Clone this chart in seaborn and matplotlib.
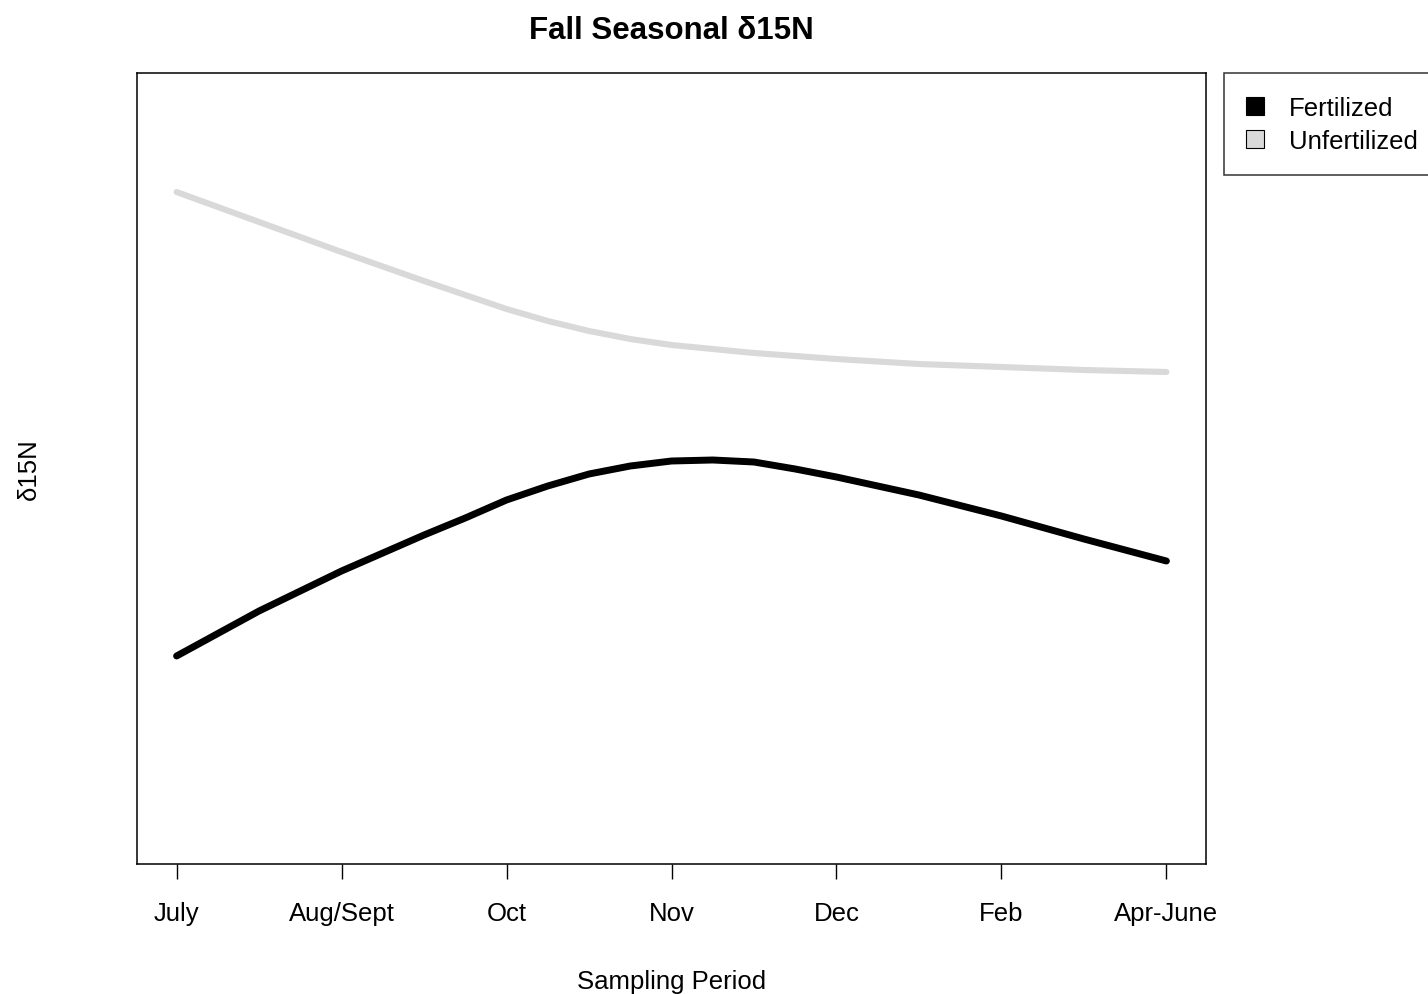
import numpy as np
import pandas as pd
import matplotlib
matplotlib.use('Agg')
import matplotlib.pyplot as plt
from matplotlib.patches import Patch
import seaborn as sns

# sampling periods (tick labels)
periods = ['July', 'Aug/Sept', 'Oct', 'Nov', 'Dec', 'Feb', 'Apr-June']

# smoothed d15N curves (arbitrary units, no y scale shown)
fert_x = [0, 0.5, 1, 1.5, 1.75, 2, 2.25, 2.5, 2.75, 3, 3.25, 3.5, 3.75, 4,
          4.5, 5, 5.5, 6]
fertilized = [2.08, 2.53, 2.93, 3.29, 3.46, 3.64, 3.78, 3.90, 3.98, 4.03,
              4.04, 4.02, 3.95, 3.87, 3.69, 3.48, 3.25, 3.03]
unfert_x = [0, 0.5, 1, 1.5, 2, 2.25, 2.5, 2.75, 3, 3.5, 4, 4.5, 5, 5.5, 6]
unfertilized = [6.72, 6.42, 6.12, 5.83, 5.55, 5.43, 5.33, 5.25, 5.19, 5.11,
                5.05, 5.00, 4.97, 4.94, 4.92]

col_fert = '#000000'
col_unfert = '#D9D9D9'

sns.set_style('white')
plt.rcParams['font.family'] = ['Liberation Sans', 'DejaVu Sans']
plt.rcParams['text.color'] = 'black'
plt.rcParams['axes.labelcolor'] = 'black'
plt.rcParams['xtick.color'] = 'black'

df = pd.DataFrame({
    'x': fert_x + unfert_x,
    'd15N': fertilized + unfertilized,
    'Treatment': ['Fertilized'] * len(fert_x) + ['Unfertilized'] * len(unfert_x),
})

fig = plt.figure(figsize=(14.28, 9.95), dpi=100)
ax = fig.add_axes([137 / 1428, 1 - 865 / 995, (1206 - 137) / 1428, (865 - 74) / 995])

sns.lineplot(data=df[df['Treatment'] == 'Unfertilized'], x='x', y='d15N',
             color=col_unfert, linewidth=4.4, solid_capstyle='round',
             solid_joinstyle='round', legend=False, ax=ax)
sns.lineplot(data=df[df['Treatment'] == 'Fertilized'], x='x', y='d15N',
             color=col_fert, linewidth=5.0, solid_capstyle='round',
             solid_joinstyle='round', legend=False, ax=ax)

ax.set_xlim(-0.24, 6.24)
ax.set_ylim(0, 7.91)
ax.set_xticks(range(len(periods)))
ax.set_xticklabels(periods, fontsize=18.5)
ax.set_yticks([])
ax.tick_params(axis='x', direction='out', length=11, width=1, color='black',
               pad=16, bottom=True)
for s in ax.spines.values():
    s.set_visible(True)
    s.set_color('black')
    s.set_linewidth(1.1)

ax.set_xlabel('Sampling Period', fontsize=18.5, labelpad=31)
ax.set_ylabel('δ15N', fontsize=18.5, labelpad=69)
ax.set_title('Fall Seasonal δ15N', fontsize=22.5, fontweight='bold', pad=25)

handles = [Patch(facecolor=col_fert, edgecolor='black', linewidth=0.8),
           Patch(facecolor=col_unfert, edgecolor='black', linewidth=0.8)]
leg = ax.legend(handles, ['Fertilized', 'Unfertilized'], loc='upper left',
                bbox_to_anchor=(1.0165, 1.0), fontsize=18.5, frameon=True,
                fancybox=False, borderpad=0.88, handlelength=0.7,
                handleheight=0.7, handletextpad=0.95, labelspacing=0.36,
                borderaxespad=0)
leg.get_frame().set_edgecolor('black')
leg.get_frame().set_linewidth(1.1)

fig.savefig('out.png', dpi=100)
